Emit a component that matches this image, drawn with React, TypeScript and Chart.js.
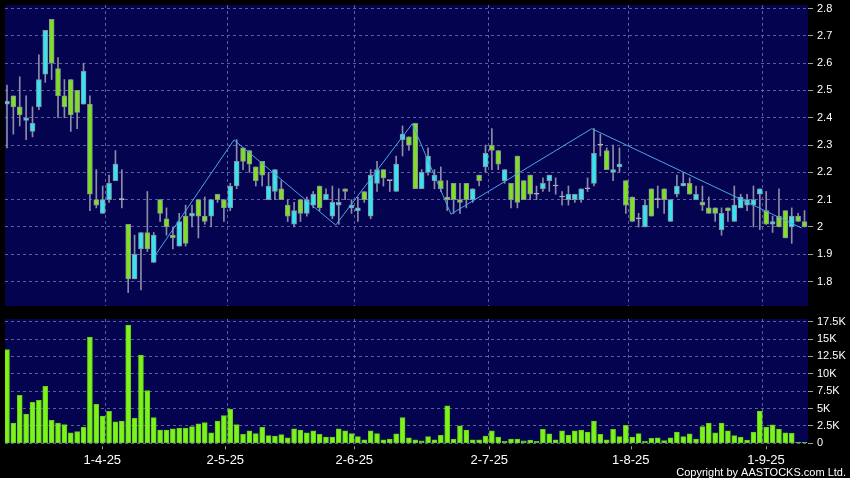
import React, { useEffect, useRef } from 'react';
import { Chart, registerables } from 'chart.js';

Chart.register(...registerables);

// ---- data ----
const opens = [
  2.45, 2.48, 2.44, 2.39, 2.35, 2.44, 2.56, 2.76, 2.58, 2.48,
  2.54, 2.50, 2.45, 2.45, 2.10, 2.05, 2.10, 2.17, 2.10, 2.01,
  1.81, 1.92, 1.98, 1.87, 2.10, 2.03, 1.97, 1.93, 2.04, 2.04,
  2.10, 2.04, 2.04, 2.12, 2.10, 2.07, 2.15, 2.29, 2.28, 2.22,
  2.24, 2.10, 2.13, 2.14, 2.08, 2.01, 2.10, 2.05, 2.08, 2.15,
  2.10, 2.04, 2.08, 2.14, 2.07, 2.06, 2.13, 2.04, 2.16, 2.21,
  2.17, 2.13, 2.32, 2.33, 2.38, 2.14, 2.20, 2.17, 2.17, 2.11,
  2.16, 2.10, 2.16, 2.10, 2.19, 2.22, 2.30, 2.28, 2.17, 2.16,
  2.26, 2.17, 2.19, 2.12, 2.14, 2.17, 2.15, 2.11, 2.10, 2.10,
  2.10, 2.14, 2.16, 2.30, 2.28, 2.20, 2.22, 2.17, 2.11, 2.03,
  2.00, 2.14, 2.10, 2.14, 2.02, 2.12, 2.15, 2.16, 2.10, 2.09,
  2.07, 2.07, 1.99, 2.07, 2.02, 2.07, 2.08, 2.08, 2.12, 2.06,
  2.01, 2.04, 2.06, 2.00, 2.04, 2.02,
];
const highs = [
  2.52, 2.48, 2.55, 2.48, 2.44, 2.63, 2.72, 2.76, 2.62, 2.54,
  2.54, 2.50, 2.60, 2.48, 2.21, 2.15, 2.19, 2.28, 2.21, 2.01,
  1.97, 1.98, 2.13, 1.98, 2.10, 2.07, 2.00, 2.05, 2.08, 2.08,
  2.10, 2.11, 2.10, 2.12, 2.10, 2.16, 2.32, 2.29, 2.28, 2.22,
  2.24, 2.20, 2.21, 2.17, 2.10, 2.09, 2.10, 2.11, 2.13, 2.15,
  2.14, 2.15, 2.14, 2.14, 2.10, 2.11, 2.13, 2.21, 2.24, 2.21,
  2.17, 2.26, 2.37, 2.33, 2.38, 2.21, 2.29, 2.21, 2.22, 2.17,
  2.16, 2.16, 2.16, 2.14, 2.19, 2.30, 2.36, 2.28, 2.21, 2.16,
  2.26, 2.17, 2.19, 2.15, 2.18, 2.19, 2.18, 2.13, 2.15, 2.12,
  2.14, 2.18, 2.36, 2.34, 2.29, 2.30, 2.29, 2.17, 2.11, 2.05,
  2.10, 2.14, 2.15, 2.14, 2.10, 2.19, 2.20, 2.18, 2.15, 2.15,
  2.11, 2.07, 2.07, 2.07, 2.15, 2.12, 2.12, 2.15, 2.14, 2.13,
  2.04, 2.14, 2.06, 2.07, 2.05, 2.06,
];
const lows = [
  2.29, 2.34, 2.37, 2.32, 2.33, 2.43, 2.53, 2.54, 2.40, 2.40,
  2.35, 2.36, 2.45, 2.06, 2.07, 2.05, 2.09, 2.17, 2.07, 1.76,
  1.81, 1.77, 1.91, 1.87, 2.02, 1.97, 1.92, 1.93, 1.93, 2.00,
  1.96, 2.01, 2.00, 2.09, 2.02, 2.06, 2.14, 2.21, 2.20, 2.15,
  2.15, 2.10, 2.10, 2.10, 2.02, 2.00, 2.02, 2.04, 2.07, 2.06,
  2.10, 2.03, 2.01, 2.10, 2.05, 2.02, 2.09, 2.03, 2.13, 2.15,
  2.13, 2.13, 2.26, 2.28, 2.14, 2.14, 2.19, 2.14, 2.13, 2.06,
  2.05, 2.05, 2.07, 2.09, 2.15, 2.20, 2.21, 2.21, 2.16, 2.07,
  2.07, 2.10, 2.10, 2.10, 2.13, 2.13, 2.12, 2.08, 2.08, 2.09,
  2.09, 2.13, 2.15, 2.26, 2.21, 2.17, 2.20, 2.05, 2.02, 2.00,
  2.00, 2.04, 2.07, 2.05, 2.02, 2.11, 2.15, 2.12, 2.10, 2.06,
  2.05, 2.02, 1.97, 2.02, 2.02, 2.07, 2.06, 2.00, 1.99, 2.01,
  1.98, 2.00, 1.96, 1.94, 2.02, 2.00,
];
const closes = [
  2.46, 2.44, 2.41, 2.40, 2.38, 2.54, 2.72, 2.60, 2.48, 2.44,
  2.41, 2.42, 2.57, 2.12, 2.08, 2.10, 2.16, 2.23, 2.10, 1.81,
  1.90, 1.98, 1.92, 1.97, 2.05, 2.00, 1.96, 2.02, 1.94, 2.05,
  2.04, 2.02, 2.10, 2.10, 2.07, 2.15, 2.24, 2.24, 2.23, 2.17,
  2.19, 2.15, 2.21, 2.10, 2.04, 2.06, 2.05, 2.10, 2.12, 2.07,
  2.12, 2.09, 2.09, 2.13, 2.08, 2.07, 2.10, 2.19, 2.21, 2.18,
  2.17, 2.23, 2.34, 2.30, 2.14, 2.20, 2.26, 2.19, 2.14, 2.10,
  2.10, 2.09, 2.10, 2.14, 2.17, 2.27, 2.28, 2.23, 2.21, 2.10,
  2.09, 2.10, 2.12, 2.12, 2.16, 2.19, 2.15, 2.11, 2.12, 2.12,
  2.14, 2.14, 2.27, 2.30, 2.21, 2.21, 2.23, 2.08, 2.02, 2.03,
  2.08, 2.04, 2.10, 2.10, 2.10, 2.15, 2.16, 2.12, 2.12, 2.08,
  2.05, 2.05, 2.05, 2.06, 2.08, 2.11, 2.10, 2.10, 2.14, 2.01,
  2.02, 2.00, 1.96, 2.04, 2.02, 2.00,
];
const volumes = [
  13500, 2900, 6900, 4200, 5900, 6200, 8200, 3300, 2900, 2700,
  1500, 1700, 2300, 15300, 5600, 3900, 4600, 3100, 3200, 17000,
  3600, 12700, 7600, 3700, 1900, 1900, 2100, 2200, 2200, 2400,
  2800, 3000, 1500, 3200, 4000, 4900, 2700, 1300, 1800, 1400,
  2300, 1100, 1050, 1250, 800, 2100, 1900, 1500, 1800, 1300,
  900, 900, 2100, 1800, 1400, 960, 500, 1800, 1400, 500,
  600, 1350, 3700, 800, 500, 350, 960, 500, 1150, 5400,
  600, 2500, 1900, 500, 500, 1050, 1800, 900, 300, 600,
  600, 350, 450, 300, 2000, 1350, 500, 1800, 1200, 1800,
  1900, 1600, 3200, 1300, 500, 2000, 960, 2600, 900, 1400,
  300, 700, 800, 400, 800, 1600, 960, 1350, 600, 2400,
  2900, 1500, 2900, 1800, 1100, 900, 450, 1600, 4650, 2350,
  2650, 2050, 1500, 1450, 150, 150,
];

const dateLabels = ['1-4-25', '2-5-25', '2-6-25', '2-7-25', '1-8-25', '1-9-25'];
const labelIndex = [14.94, 34.22, 54.44, 75.6, 97.76, 118.97];
const gridIndex = [15.41, 34.53, 54.44, 75.44, 97.41, 118.38];

const trendIndex = [23.35, 35.58, 51.52, 63.53, 69.59, 91.65, 124.56];
const trendPrice = [1.9, 2.319, 2.007, 2.378, 2.047, 2.36, 1.996];

const priceTicks = [1.8, 1.9, 2.0, 2.1, 2.2, 2.3, 2.4, 2.5, 2.6, 2.7, 2.8];
const volumeTicks = [0, 2500, 5000, 7500, 10000, 12500, 15000, 17500];

// ---- style ----
const X_MIN = -0.31;
const X_MAX = 125.55;
const P_MIN = 1.7107;
const P_MAX = 2.8129;
const V_MAX = 17890;
const NAVY = '#03034f';
const GRID = '#5e5e9c';
const CYAN = '#36e4f0';
const GREEN = '#80e020';
const CROSS = '#b8b8c8';
const WICK = '#8c8ca6';
const BODY_BORDER = '#8890a4';
const VOL = '#7cf41c';
const FONT = "'Liberation Sans', Arial, sans-serif";

const idx = closes.map((_, i) => i);

const bgPlugin = {
  id: 'bgGrid',
  beforeDraw(chart: any) {
    const { ctx, chartArea: a } = chart;
    ctx.save();
    ctx.fillStyle = '#000';
    ctx.fillRect(0, 0, chart.width, chart.height);
    ctx.fillStyle = NAVY;
    ctx.fillRect(a.left, a.top, a.right - a.left, a.bottom - a.top);
    ctx.restore();
  },
  beforeDatasetsDraw(chart: any) {
    const { ctx, chartArea: a } = chart;
    const x = chart.scales.x;
    ctx.save();
    ctx.strokeStyle = GRID;
    ctx.lineWidth = 1;
    ctx.setLineDash([3, 3]);
    gridIndex.forEach((v) => {
      const px = Math.round(x.getPixelForValue(v)) + 0.5;
      ctx.beginPath();
      ctx.moveTo(px, a.top);
      ctx.lineTo(px, a.bottom);
      ctx.stroke();
    });
    ctx.restore();
  },
};

const footPlugin = {
  id: 'foot',
  afterDraw(chart: any) {
    const { ctx, chartArea: a } = chart;
    const x = chart.scales.x;
    ctx.save();
    ctx.strokeStyle = '#a0a0a0';
    ctx.lineWidth = 1;
    labelIndex.forEach((v) => {
      const px = Math.round(x.getPixelForValue(v)) + 0.5;
      ctx.beginPath();
      ctx.moveTo(px, a.bottom + 3);
      ctx.lineTo(px, a.bottom + 6);
      ctx.stroke();
    });
    ctx.fillStyle = '#ffffff';
    ctx.font = `11px ${FONT}`;
    ctx.textAlign = 'right';
    ctx.textBaseline = 'alphabetic';
    ctx.fillText('Copyright by AASTOCKS.com Ltd.', 846, chart.height - 2.5);
    ctx.restore();
  },
};

const fmtPrice = (v: number) => String(Number(v.toFixed(1)));
const fmtVol = (v: number) => (v === 0 ? '0' : `${v / 1000}K`);

export default function App() {
  const priceRef = useRef<HTMLCanvasElement>(null);
  const volRef = useRef<HTMLCanvasElement>(null);

  useEffect(() => {
    const bodyColors = idx.map((i) =>
      closes[i] > opens[i] ? CYAN : closes[i] < opens[i] ? GREEN : CROSS
    );
    const bodyBorders = idx.map((i) => (closes[i] === opens[i] ? CROSS : BODY_BORDER));

    const priceChart = new Chart(priceRef.current as HTMLCanvasElement, {
      type: 'bar',
      data: {
        datasets: [
          {
            type: 'line',
            data: trendIndex.map((x, k) => ({ x, y: trendPrice[k] })),
            borderColor: '#4aa6e6',
            borderWidth: 1,
            pointRadius: 0,
            fill: false,
            order: 1,
          } as any,
          {
            type: 'bar',
            data: idx.map((i) => ({ x: i, y: [opens[i], closes[i]] })),
            backgroundColor: bodyColors,
            borderColor: bodyBorders,
            borderWidth: 1,
            borderSkipped: false,
            barThickness: 5,
            minBarLength: 1,
            grouped: false,
            order: 2,
          } as any,
          {
            type: 'bar',
            data: idx.map((i) => ({ x: i, y: [lows[i], highs[i]] })),
            backgroundColor: WICK,
            borderWidth: 0,
            barThickness: 1,
            grouped: false,
            order: 3,
          } as any,
        ],
      },
      options: {
        animation: false,
        responsive: false,
        events: [],
        layout: { padding: { left: 5, top: 5, right: 0, bottom: 6 } },
        plugins: { legend: { display: false }, tooltip: { enabled: false } },
        scales: {
          x: {
            type: 'linear',
            display: false,
            offset: false,
            min: X_MIN,
            max: X_MAX,
          },
          y: {
            type: 'linear',
            position: 'right',
            min: P_MIN,
            max: P_MAX,
            afterBuildTicks: (s: any) => {
              s.ticks = priceTicks.map((v) => ({ value: v }));
            },
            afterFit: (s: any) => {
              s.width = 42;
              s.paddingTop = 0;
              s.paddingBottom = 0;
            },
            grid: {
              color: GRID,
              lineWidth: 1,
              drawTicks: true,
              tickLength: 5,
              tickColor: '#a0a0a0',
              tickBorderDash: [],
            },
            border: { display: false, dash: [3, 3] },
            ticks: {
              color: '#ffffff',
              padding: 4,
              font: { family: FONT, size: 11 },
              callback: (v: any) => fmtPrice(Number(v)),
            },
          },
        },
      } as any,
      plugins: [bgPlugin],
    });

    const volChart = new Chart(volRef.current as HTMLCanvasElement, {
      type: 'bar',
      data: {
        datasets: [
          {
            data: idx.map((i) => ({ x: i, y: volumes[i] })),
            backgroundColor: VOL,
            borderColor: '#66cc14',
            borderWidth: 1,
            borderSkipped: false,
            barThickness: 5,
            grouped: false,
          } as any,
        ],
      },
      options: {
        animation: false,
        responsive: false,
        events: [],
        layout: { padding: { left: 5, top: 7, right: 0, bottom: 0 } },
        plugins: { legend: { display: false }, tooltip: { enabled: false } },
        scales: {
          x: {
            type: 'linear',
            position: 'bottom',
            offset: false,
            min: X_MIN,
            max: X_MAX,
            afterBuildTicks: (s: any) => {
              s.ticks = labelIndex.map((v) => ({ value: v }));
            },
            afterFit: (s: any) => {
              s.height = 34.7;
              s.paddingLeft = 0;
              s.paddingRight = 0;
            },
            grid: { display: false, drawTicks: false, offset: false },
            border: { display: false },
            ticks: {
              color: '#ffffff',
              padding: 9,
              autoSkip: false,
              maxRotation: 0,
              font: { family: FONT, size: 13 },
              callback: (_v: any, i: number) => dateLabels[i],
            },
          },
          y: {
            type: 'linear',
            position: 'right',
            min: 0,
            max: V_MAX,
            afterBuildTicks: (s: any) => {
              s.ticks = volumeTicks.map((v) => ({ value: v }));
            },
            afterFit: (s: any) => {
              s.width = 42;
              s.paddingTop = 0;
              s.paddingBottom = 0;
            },
            grid: {
              color: GRID,
              lineWidth: 1,
              drawTicks: true,
              tickLength: 5,
              tickColor: '#a0a0a0',
              tickBorderDash: [],
            },
            border: { display: false, dash: [3, 3] },
            ticks: {
              color: '#ffffff',
              padding: 4,
              font: { family: FONT, size: 11 },
              callback: (v: any) => fmtVol(Number(v)),
            },
          },
        },
      } as any,
      plugins: [bgPlugin, footPlugin],
    });

    return () => {
      priceChart.destroy();
      volChart.destroy();
    };
  }, []);

  return (
    <div style={{ position: 'fixed', left: 0, top: 0, width: 850, height: 478, background: '#000' }}>
      <canvas ref={priceRef} width={850} height={312} style={{ position: 'absolute', left: 0, top: 0 }} />
      <canvas ref={volRef} width={850} height={166} style={{ position: 'absolute', left: 0, top: 312 }} />
    </div>
  );
}
